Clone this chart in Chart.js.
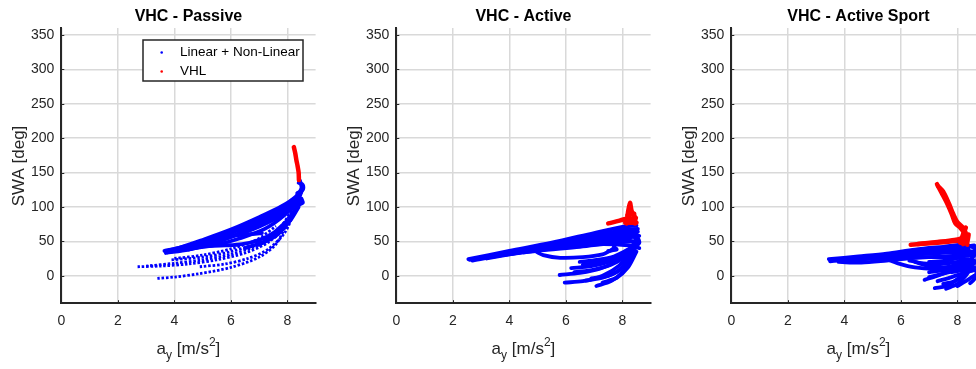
<!DOCTYPE html>
<html>
<head>
<meta charset="utf-8">
<script src="https://cdn.jsdelivr.net/npm/chart.js@4/dist/chart.umd.min.js"></script>
<style>
  html, body { margin: 0; padding: 0; background: #fff; overflow: hidden; width: 976px; height: 369px; position: relative; }
  canvas { position: absolute; top: 0; }
</style>
</head>
<body>
<canvas id="c1" width="335" height="369" style="left:0px"></canvas>
<canvas id="c2" width="335" height="369" style="left:335px"></canvas>
<canvas id="c3" width="335" height="369" style="left:670px"></canvas>
<script>
// ─── DATA ─────────────────────────────────────────────────────────────────────
const X_TICKS = [0, 2, 4, 6, 8];
const Y_TICKS = [0, 50, 100, 150, 200, 250, 300, 350];
const X_RANGE = [0, 9];
const Y_RANGE = [-40, 360];
const TITLES = ["VHC - Passive", "VHC - Active", "VHC - Active Sport"];
const LEGEND_LABELS = ["Linear + Non-Linear", "VHL"];

// each trace is a list of [a_y, SWA] samples
const PASSIVE_LIN = [
  [[3.65,36],[4.2,41],[5,52],[6,67],[7,85],[7.8,101],[8.3,115],[8.5,127],[8.45,138]],
  [[3.75,34],[4.5,42],[5.5,56],[6.5,72],[7.5,90],[8.2,107],[8.5,122]],
  [[3.8,37],[4.6,45],[5.6,58],[6.6,74],[7.6,93],[8.25,112]],
  [[3.7,33],[4.5,38],[5.3,46],[6.2,60],[7.2,78],[8,98],[8.4,115]],
  [[3.9,35],[4.8,42],[5.7,52],[6.6,66],[7.5,82],[8.1,100],[8.45,118]],
  [[4.1,36],[4.9,41],[5.6,46],[6.3,54],[7.2,68],[7.9,88],[8.35,108],[8.55,128]],
  [[4.2,37],[5,45],[5.8,54],[6.8,68],[7.7,86],[8.3,105]],
  [[4.5,38],[5.3,47],[6.0,62],[7,76],[7.7,92],[8.3,110]],
  [[5.2,43],[5.8,44],[6.4,46],[7.0,52],[7.5,62],[8.0,80]],
  [[5.4,51],[6.0,58],[6.6,60],[7.1,62]],
  [[6.5,40],[7.2,50],[7.8,68],[8.2,90],[8.45,110]],
  [[7,45],[7.6,58],[8.1,80],[8.4,100]],
  [[8.4,103],[8.55,106],[8.5,112]],
  [[8.35,120],[8.55,125],[8.55,132],[8.4,135]]
];
const PASSIVE_LIN_DOTTED = [
  [[2.7,13],[3.5,14],[4.5,17],[5.5,23],[6.5,33],[7.3,48],[7.9,70],[8.3,100]],
  [[3.0,14],[4,18],[5,23],[6,31],[7,45],[7.7,65],[8.2,95]],
  [[3.9,23],[5,27],[6,35],[7,49],[7.7,68],[8.2,98]],
  [[4.0,25],[5,30],[6,39],[6.9,52],[7.6,72]],
  [[4.9,13],[5.8,17],[6.6,25],[7.3,38],[7.9,62],[8.3,98]],
  [[3.4,-4],[4,-2],[4.9,3],[6,12],[7,27],[7.6,46],[8,78],[8.3,105]]
];
const PASSIVE_VHL = [
  [[8.41,139],[8.4,150],[8.36,160],[8.32,168],[8.28,178],[8.23,187]]
];

const ACTIVE_LIN = [
  [[2.55,24],[4,36],[5.5,48],[7,62],[8,71],[8.5,73]],
  [[2.6,23],[4,34],[5.5,46],[7,58],[8.1,67],[8.55,68]],
  [[2.7,22],[4,32],[5.5,42],[7,52],[8.2,60],[8.6,58]],
  [[2.8,24],[4.2,35],[5.7,46],[7.2,56],[8.3,63]],
  [[3,26],[4.5,37],[6,50],[7.5,62],[8.4,66]],
  [[3.2,25],[4.7,36],[6.2,47],[7.6,57],[8.5,62]],
  [[3.5,28],[5,38],[6.5,46],[8,52],[8.6,48]],
  [[3.8,30],[5,36],[6.5,42],[7.8,48],[8.5,50]],
  [[4.5,34],[6,42],[7.2,46],[8.2,44],[8.6,40]],
  [[5,40],[6.5,50],[7.8,58],[8.5,56]],
  [[6,45],[7.2,53],[8.3,55]],
  [[7,50],[8,60],[8.55,64]],
  [[4.95,35],[5.2,30],[5.8,26],[6.6,27],[7.3,31],[7.6,37],[7.7,40]],
  [[7.5,36],[7.8,38],[7.7,42]],
  [[5.78,1],[6.5,4],[7.2,10],[7.8,22],[8.3,40],[8.5,55]],
  [[5.96,-10],[6.6,-8],[7.3,0],[7.9,15],[8.3,35]],
  [[6.19,11],[6.9,14],[7.5,20],[8,30],[8.4,45]],
  [[6.49,20],[7.1,23],[7.7,28],[8.2,38]],
  [[7.08,-15],[7.6,-8],[8,5],[8.3,25],[8.5,45]],
  [[6.9,-4],[7.5,0],[8,12],[8.4,35]],
  [[6.3,5],[7,9],[7.6,16],[8.1,28],[8.45,45]],
  [[6.7,-7],[7.3,-3],[7.9,8],[8.3,28]],
  [[7.3,-10],[7.8,-3],[8.2,12],[8.5,35]],
  [[6.6,16],[7.3,20],[7.9,26],[8.3,40]],
  [[8.4,40],[8.6,48],[8.55,55],[8.45,60]]
];
const ACTIVE_VHL = [
  [[7.5,76],[7.9,80],[8.15,83]],
  [[8.15,76],[8.2,92],[8.27,106],[8.33,94],[8.45,85],[8.45,76]],
  [[8.2,78],[8.25,90],[8.3,98]],
  [[8.3,77],[8.4,85]],
  [[8.1,77],[8.5,77]],
  [[8.12,82],[8.48,84]],
  [[8.18,88],[8.42,90]]
];

const SPORT_LIN = [
  [[3.45,24],[4.5,28],[5.5,32],[6.5,38],[7.5,42],[8.3,45],[8.6,40]],
  [[3.6,23],[4.8,27],[6,31],[7,35],[8,40],[8.6,44]],
  [[3.5,22],[4.5,26],[5.5,30],[6.5,35],[7.5,39],[8.4,41]],
  [[3.5,21],[4.5,24],[5.5,28],[6.5,32],[7.5,36],[8.4,38]],
  [[4,22],[5,25],[6,28],[7,32],[8,34],[8.6,30]],
  [[3.8,20],[4.6,19],[5.5,22],[6.5,26],[7.5,28],[8.5,30]],
  [[5,22],[6,25],[7,27],[8,26],[8.6,22]],
  [[6,30],[7,36],[8,42],[8.5,43]],
  [[7,20],[7.6,22],[8.2,28],[8.6,32]],
  [[5.5,24],[5.9,18],[6.5,12],[7.2,10],[7.8,14],[8.2,22]],
  [[6.3,22],[6.8,18],[7.4,17],[8,20],[8.4,24]],
  [[6.5,20],[7,14],[7.6,12],[8.2,14],[8.6,18]],
  [[6.84,-6],[7.3,0],[7.8,8],[8.2,15],[8.5,25]],
  [[7.2,-18],[7.6,-15],[8,-5],[8.3,10],[8.6,30]],
  [[7.5,-12],[7.9,-8],[8.2,0],[8.5,15]],
  [[7.0,-2],[7.6,4],[8.1,10],[8.5,20]],
  [[7,5],[7.5,8],[8,14],[8.5,22]],
  [[7.3,-8],[7.8,-2],[8.3,5],[8.6,8]],
  [[7.6,-19],[8,-12],[8.3,0],[8.6,20]],
  [[8,-15],[8.3,-8],[8.6,0]],
  [[8.45,-11],[8.6,-5],[8.7,10],[8.7,30],[8.6,42]],
  [[7.8,5],[8.2,8],[8.6,12]],
  [[7.9,30],[8.3,35],[8.65,35]]
];
const SPORT_VHL = [
  [[6.35,45],[7,47],[7.6,49],[8.1,51],[8.35,53]],
  [[6.6,46],[7.3,49],[7.9,52],[8.3,56]],
  [[7.28,133],[7.45,120],[7.64,105],[7.8,90],[7.93,76],[8.1,70],[8.22,64],[8.34,55],[8.35,45]],
  [[7.32,130],[7.5,122],[7.7,105],[7.85,90],[8.0,78],[8.2,70],[8.3,62]],
  [[8.1,48],[8.2,60],[8.3,70]],
  [[8.2,46],[8.35,50],[8.4,60]]
];

// ─── STYLE ────────────────────────────────────────────────────────────────────
const FONT = "'Liberation Sans', Arial, Helvetica, sans-serif";
const INK = "#262626";
const GRID = "#d9d9d9";
const BLUE = "#0000ff";
const RED = "#ff0000";

function traces(list, color, width, dash) {
  return list.map(t => ({
    data: t.map(p => ({ x: p[0], y: p[1] })),
    showLine: true,
    borderColor: color,
    backgroundColor: color,
    borderWidth: width,
    borderDash: dash || [],
    borderCapStyle: dash ? "butt" : "round",
    pointRadius: 0,
    tension: 0.3,
  }));
}

// titles, axis labels, inward ticks and legend drawn by hand (sub/superscripts)
const decor = {
  id: "decor",
  afterDraw(chart, args, opts) {
    const ctx = chart.ctx;
    const a = chart.chartArea;
    const cx = (a.left + a.right) / 2;
    const sx = chart.scales.x, sy = chart.scales.y;
    ctx.save();

    // inward tick marks
    ctx.strokeStyle = INK;
    ctx.lineWidth = 1;
    ctx.beginPath();
    X_TICKS.forEach(v => { const px = Math.round(sx.getPixelForValue(v)) + 0.5; ctx.moveTo(px, a.bottom); ctx.lineTo(px, a.bottom - 3); });
    Y_TICKS.forEach(v => { const py = Math.round(sy.getPixelForValue(v)) + 0.5; ctx.moveTo(a.left, py); ctx.lineTo(a.left + 3, py); });
    ctx.stroke();

    ctx.fillStyle = "#000";
    ctx.font = `bold 16px ${FONT}`;
    ctx.textAlign = "center";
    ctx.textBaseline = "alphabetic";
    ctx.fillText(opts.title, cx, 21);

    // y label
    ctx.fillStyle = INK;
    ctx.font = `17px ${FONT}`;
    ctx.save();
    ctx.translate(19, 166);
    ctx.rotate(-Math.PI / 2);
    ctx.textBaseline = "middle";
    ctx.fillText("SWA [deg]", 0, 0);
    ctx.restore();

    // x label: a_y [m/s^2]
    const parts = [
      { t: "a", s: 17, dy: 0 },
      { t: "y", s: 12, dy: 5 },
      { t: " [m/s", s: 17, dy: 0 },
      { t: "2", s: 12, dy: -8 },
      { t: "]", s: 17, dy: 0 },
    ];
    let w = 0;
    parts.forEach(p => { ctx.font = `${p.s}px ${FONT}`; p.w = ctx.measureText(p.t).width; w += p.w; });
    let x = cx - w / 2;
    ctx.textAlign = "left";
    parts.forEach(p => {
      ctx.font = `${p.s}px ${FONT}`;
      ctx.fillText(p.t, x, 354 + p.dy);
      x += p.w;
    });

    if (opts.legend) {
      const L = 143, T = 40, R = 303, B = 81;
      ctx.fillStyle = "#fff";
      ctx.fillRect(L, T, R - L, B - T);
      ctx.strokeStyle = INK;
      ctx.lineWidth = 1.5;
      ctx.strokeRect(L, T, R - L, B - T);
      ctx.font = `13.5px ${FONT}`;
      ctx.textBaseline = "middle";
      [[BLUE, 52.5], [RED, 71.5]].forEach(([c, yy], i) => {
        ctx.fillStyle = c;
        ctx.beginPath();
        ctx.arc(161.7, yy, 1.3, 0, Math.PI * 2);
        ctx.fill();
        ctx.fillStyle = "#000";
        ctx.fillText(LEGEND_LABELS[i], 180, yy);
      });
    }
    ctx.restore();
  }
};

function makeChart(id, title, lin, dotted, vhl, legend) {
  const datasets = [
    ...traces(vhl, RED, 4.5),
    ...traces(lin, BLUE, 3.8),
    ...traces(dotted, BLUE, 2.8, [2.5, 1.8]),
  ];
  return new Chart(document.getElementById(id), {
    type: "scatter",
    data: { datasets },
    plugins: [decor],
    options: {
      responsive: false,
      animation: false,
      devicePixelRatio: 1,
      layout: { padding: { left: 0, right: 19.4, top: 28.1, bottom: 0 } },
      plugins: {
        legend: { display: false },
        tooltip: { enabled: false },
        decor: { title, legend },
      },
      scales: {
        x: {
          type: "linear",
          min: X_RANGE[0], max: X_RANGE[1],
          afterBuildTicks: s => { s.ticks = X_TICKS.map(v => ({ value: v })); },
          afterFit: s => { s.height = 65.8; },
          grid: { color: GRID, lineWidth: 1.5, drawTicks: false },
          border: { color: INK, width: 2 },
          ticks: { color: INK, font: { family: FONT, size: 14 }, padding: 10, maxRotation: 0 },
        },
        y: {
          type: "linear",
          min: Y_RANGE[0], max: Y_RANGE[1],
          afterBuildTicks: s => { s.ticks = Y_TICKS.map(v => ({ value: v })); },
          afterFit: s => { s.width = 61.3; },
          grid: { color: GRID, lineWidth: 1.5, drawTicks: false },
          border: { color: INK, width: 2 },
          ticks: { color: INK, font: { family: FONT, size: 14 }, padding: 7 },
        }
      }
    }
  });
}

makeChart("c1", TITLES[0], PASSIVE_LIN, PASSIVE_LIN_DOTTED, PASSIVE_VHL, true);
makeChart("c2", TITLES[1], ACTIVE_LIN, [], ACTIVE_VHL, false);
makeChart("c3", TITLES[2], SPORT_LIN, [], SPORT_VHL, false);
</script>
</body>
</html>
